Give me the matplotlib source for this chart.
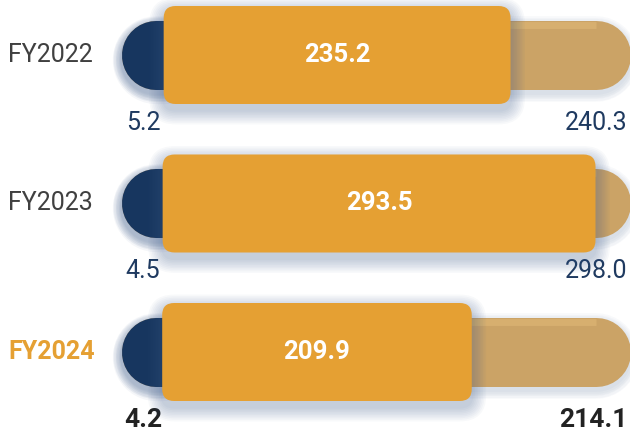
import matplotlib.pyplot as plt
from matplotlib.patches import FancyBboxPatch

plt.rcParams["font.family"] = ["Roboto", "DejaVu Sans"]

years = ["FY2022", "FY2023", "FY2024"]
base_vals = [5.2, 4.5, 4.2]
main_vals = [235.2, 293.5, 209.9]
total_vals = [240.3, 298.0, 214.1]

NAVY = "#17365f"
ORANGE = "#e5a033"
TAN = "#cba366"
SHADOW = "#3b5a8c"

# canvas in pixels and the pixel anchors of the bar area
W, H = 630, 436
x0_px, xend_px = 156, 595.5
top_px, row_gap_px = 55, 148.5

track_max = max(total_vals)
sx = (xend_px - x0_px) / track_max   # px per value unit
sy = row_gap_px                      # px per row
px_x = 1 / sx
px_y = 1 / sy

pill_h_px = 69
bar_h = 98 * px_y
pill_lw = pill_h_px * 0.72
radius_px = 12

fig = plt.figure(figsize=(W / 100, H / 100), dpi=100)
ax = fig.add_axes([0, 0, 1, 1])
xmin = -x0_px / sx
ax.set_xlim(xmin, xmin + W / sx)
ax.set_ylim((H - top_px) / sy, -top_px / sy)
ax.axis("off")

for i, (yr, b, m, t) in enumerate(zip(years, base_vals, main_vals, total_vals)):
	last = i == len(years) - 1

	# background track up to the largest total
	for k in range(1, 7):
		ax.plot([0, track_max], [i + 4 * px_y, i + 4 * px_y], color=SHADOW,
			lw=pill_lw + k * 2, alpha=0.03, solid_capstyle="round", zorder=1)
	ax.plot([0, track_max], [i, i], color=TAN, lw=pill_lw,
		solid_capstyle="round", zorder=1.5)
	ax.plot([0, track_max], [i - 30 * px_y, i - 30 * px_y], color="#e6be7c",
		lw=5, alpha=0.45, solid_capstyle="butt", zorder=1.6)

	# navy segment
	for k in range(1, 7):
		ax.plot([0, b], [i + 5 * px_y, i + 5 * px_y], color=SHADOW,
			lw=pill_lw + k * 2.2, alpha=0.05, solid_capstyle="round", zorder=2)
	ax.plot([0, b], [i, i], color=NAVY, lw=pill_lw,
		solid_capstyle="round", zorder=3)

	# main orange bar with a soft drop shadow
	for k in range(1, 10):
		e = k * 1.6
		ax.add_patch(FancyBboxPatch(
			(b - e * px_x, i - bar_h / 2 - e * px_y + 6 * px_y),
			m + 2 * e * px_x, bar_h + 2 * e * px_y,
			boxstyle=f"round,pad=0,rounding_size={(radius_px + e) * px_x}",
			mutation_aspect=sx / sy,
			fc=SHADOW, ec="none", alpha=0.035, zorder=4,
		))
	ax.add_patch(FancyBboxPatch(
		(b, i - bar_h / 2), m, bar_h,
		boxstyle=f"round,pad=0,rounding_size={radius_px * px_x}",
		mutation_aspect=sx / sy,
		fc=ORANGE, ec="none", zorder=5,
	))

	ax.text(b + m / 2, i, f"{m:.1f}", color="white", fontsize=18.5,
		fontweight="bold", ha="center", va="center", zorder=6)

	# year label
	ax.text(8 / W, i, yr, transform=ax.get_yaxis_transform(),
		color=ORANGE if last else "#404040",
		fontweight="bold" if last else "normal",
		fontsize=18, ha="left", va="center")

	# values under the bar
	lab_y = i + 68 * px_y
	if last:
		kw = dict(color="#222222", fontweight="bold", fontsize=19)
	else:
		kw = dict(color="#1f3a60", fontsize=18)
	ax.text(143 / W, lab_y, f"{b:.1f}", transform=ax.get_yaxis_transform(),
		ha="center", va="center", **kw)
	ax.text(627 / W, lab_y, f"{t:.1f}", transform=ax.get_yaxis_transform(),
		ha="right", va="center", **kw)

fig.savefig("out.png", dpi=100)
